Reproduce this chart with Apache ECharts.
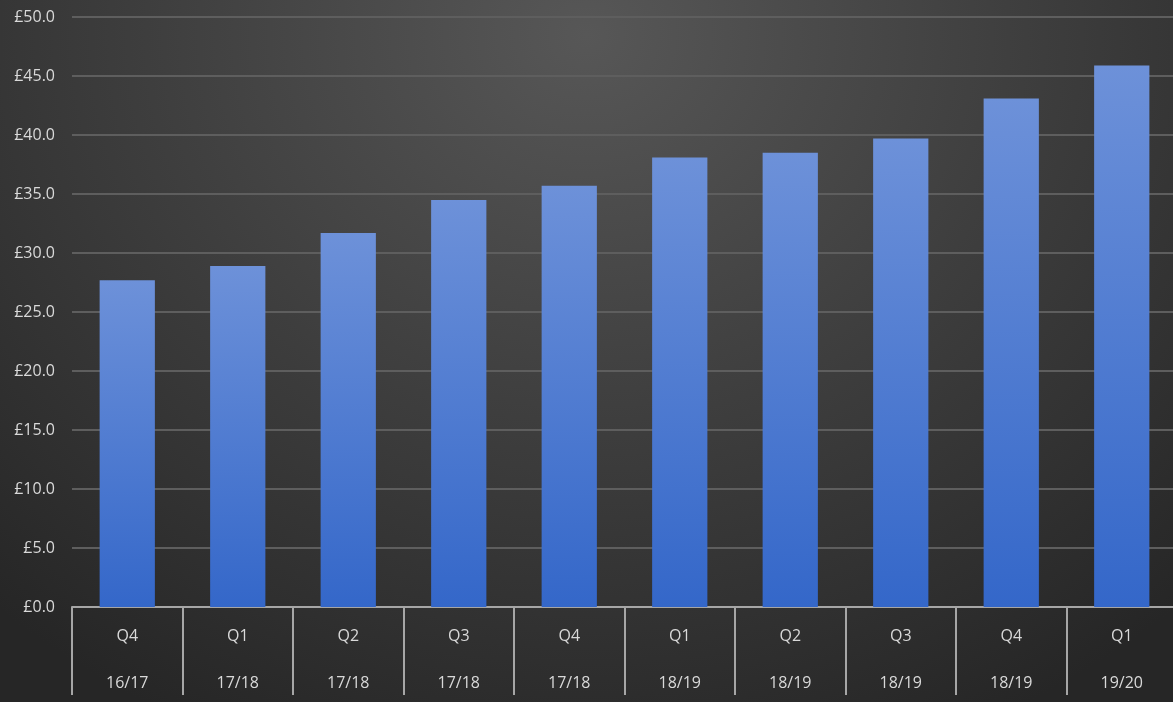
<!DOCTYPE html>
<html>
<head>
<meta charset="utf-8">
<script src="https://cdn.jsdelivr.net/npm/echarts@6/dist/echarts.min.js"></script>
<style>
html,body{margin:0;padding:0;}
#chart{width:1173px;height:702px;background:radial-gradient(ellipse 75% 110% at 50% 5%, #575757 0%, #3e3e3e 50%, #262626 100%);}
</style>
</head>
<body>
<div id="chart"></div>
<script>
const quarters = ['Q4','Q1','Q2','Q3','Q4','Q1','Q2','Q3','Q4','Q1'];
const years = ['16/17','17/18','17/18','17/18','17/18','18/19','18/19','18/19','18/19','19/20'];
const values = [27.7, 28.9, 31.7, 34.5, 35.7, 38.1, 38.5, 39.7, 43.1, 45.9];
const categories = quarters.map((q,i) => q + '\n' + years[i]);

const chart = echarts.init(document.getElementById('chart'));
chart.setOption({
  backgroundColor: 'transparent',
  animation: false,
  grid: {left: 72, top: 17, height: 590, width: 1105, containLabel: false, outerBoundsMode: 'none'},
  xAxis: {
    type: 'category',
    data: categories,
    boundaryGap: true,
    axisLine: {lineStyle: {color: '#a6a6a6', width: 2}},
    axisTick: {show: true, length: 88, alignWithLabel: false, lineStyle: {color: '#a6a6a6', width: 2}},
    axisLabel: {color: '#d9d9d9', fontFamily: 'Open Sans', fontSize: 16, lineHeight: 47, margin: 6}
  },
  yAxis: {
    type: 'value',
    min: 0, max: 50, interval: 5,
    axisLine: {show: false},
    axisTick: {show: false},
    splitLine: {lineStyle: {color: '#5e5e5e', width: 2}},
    axisLabel: {color: '#d9d9d9', fontFamily: 'Open Sans', fontSize: 16, margin: 17,
      formatter: v => '£' + v.toFixed(1)}
  },
  series: [{
    type: 'bar',
    data: values,
    barWidth: '50%',
    itemStyle: {
      color: new echarts.graphic.LinearGradient(0,0,0,1,[
        {offset:0,color:'#6d91d9'},{offset:1,color:'#3467c9'}
      ])
    }
  }]
});
</script>
</body>
</html>
